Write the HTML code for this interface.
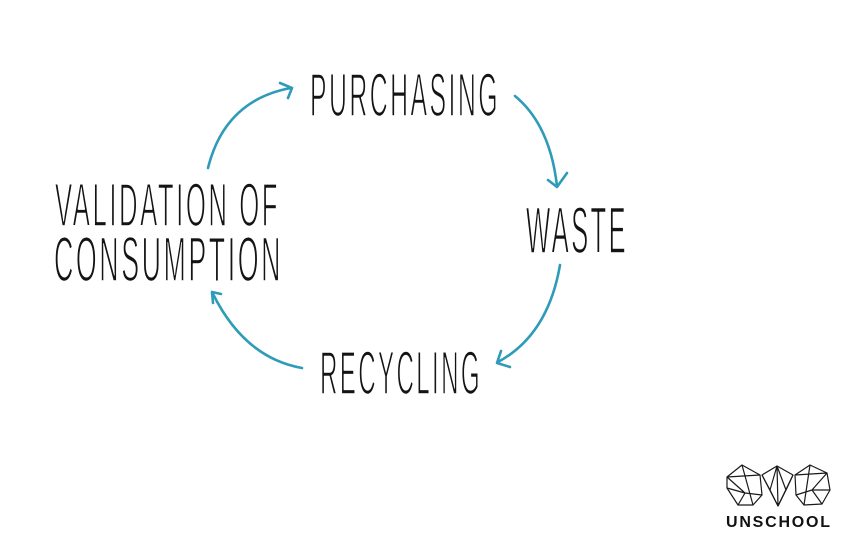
<!DOCTYPE html>
<html>
<head>
<meta charset="utf-8">
<style>
  html,body{margin:0;padding:0;background:#fff;}
  svg{display:block;}
  .t{font-family:"Liberation Sans Narrow","Liberation Sans",sans-serif;fill:#141414;font-weight:normal;stroke:#fff;stroke-width:1.6;stroke-linejoin:round;letter-spacing:6px;}
  .a{fill:none;stroke:#2e9cb8;stroke-width:2.6;stroke-linecap:round;stroke-linejoin:round;}
  .l{fill:none;stroke:#1a1a1a;stroke-width:1.2;stroke-linejoin:round;}
</style>
</head>
<body>
<svg width="860" height="544" viewBox="0 0 860 544" xmlns="http://www.w3.org/2000/svg">
  <rect width="860" height="544" fill="#fff"/>

  <!-- labels -->
  <text class="t" x="310" y="116" font-size="61" textLength="190" lengthAdjust="spacingAndGlyphs">PURCHASING</text>
  <text class="t" x="526" y="253" font-size="66" textLength="102" lengthAdjust="spacingAndGlyphs">WASTE</text>
  <text class="t" x="55" y="226" font-size="61" textLength="225" lengthAdjust="spacingAndGlyphs">VALIDATION OF</text>
  <text class="t" x="54" y="281" font-size="63" textLength="229" lengthAdjust="spacingAndGlyphs">CONSUMPTION</text>
  <text class="t" x="320" y="394" font-size="61" textLength="162" lengthAdjust="spacingAndGlyphs">RECYCLING</text>

  <!-- arrows -->
  <path class="a" d="M515,96 Q550,125 557,186"/>
  <path class="a" d="M548,180 L557,187 L567,173"/>

  <path class="a" d="M560,265 Q548,335 498,362"/>
  <path class="a" d="M501,351 L497,363 L510,367"/>

  <path class="a" d="M302,368 Q245,358 213,294"/>
  <path class="a" d="M221,294 L212,292 L213,303"/>

  <path class="a" d="M208,168 Q225,100 291,88"/>
  <path class="a" d="M280,83 L292,88 L288,98"/>

  <!-- logo -->
  <g class="l">
    <polygon points="727,477 742,465 760,475 762,495 753,505 738,505 727,488"/>
    <path d="M727,477 L760,475 M742,465 L753,505 M727,477 L745,493 L762,495 M738,505 L745,493 M727,488 L745,493"/>
    <polygon points="762,475 777,466 793,475 778,506"/>
    <path d="M777,466 L778,506 M762,475 L770,490 L778,506 M793,475 L786,490 L778,506 M770,490 L777,466 L786,490"/>
    <polygon points="795,475 810,465 827,473 830,490 822,504 804,505 796,495"/>
    <path d="M795,475 L827,473 M810,465 L804,505 M796,495 L812,490 L830,490 M812,490 L822,504 M812,490 L827,473"/>
  </g>
  <text x="726" y="527" font-family="Liberation Sans, sans-serif" font-weight="bold" font-size="16" fill="#111" textLength="104" lengthAdjust="spacing">UNSCHOOL</text>
</svg>
</body>
</html>
